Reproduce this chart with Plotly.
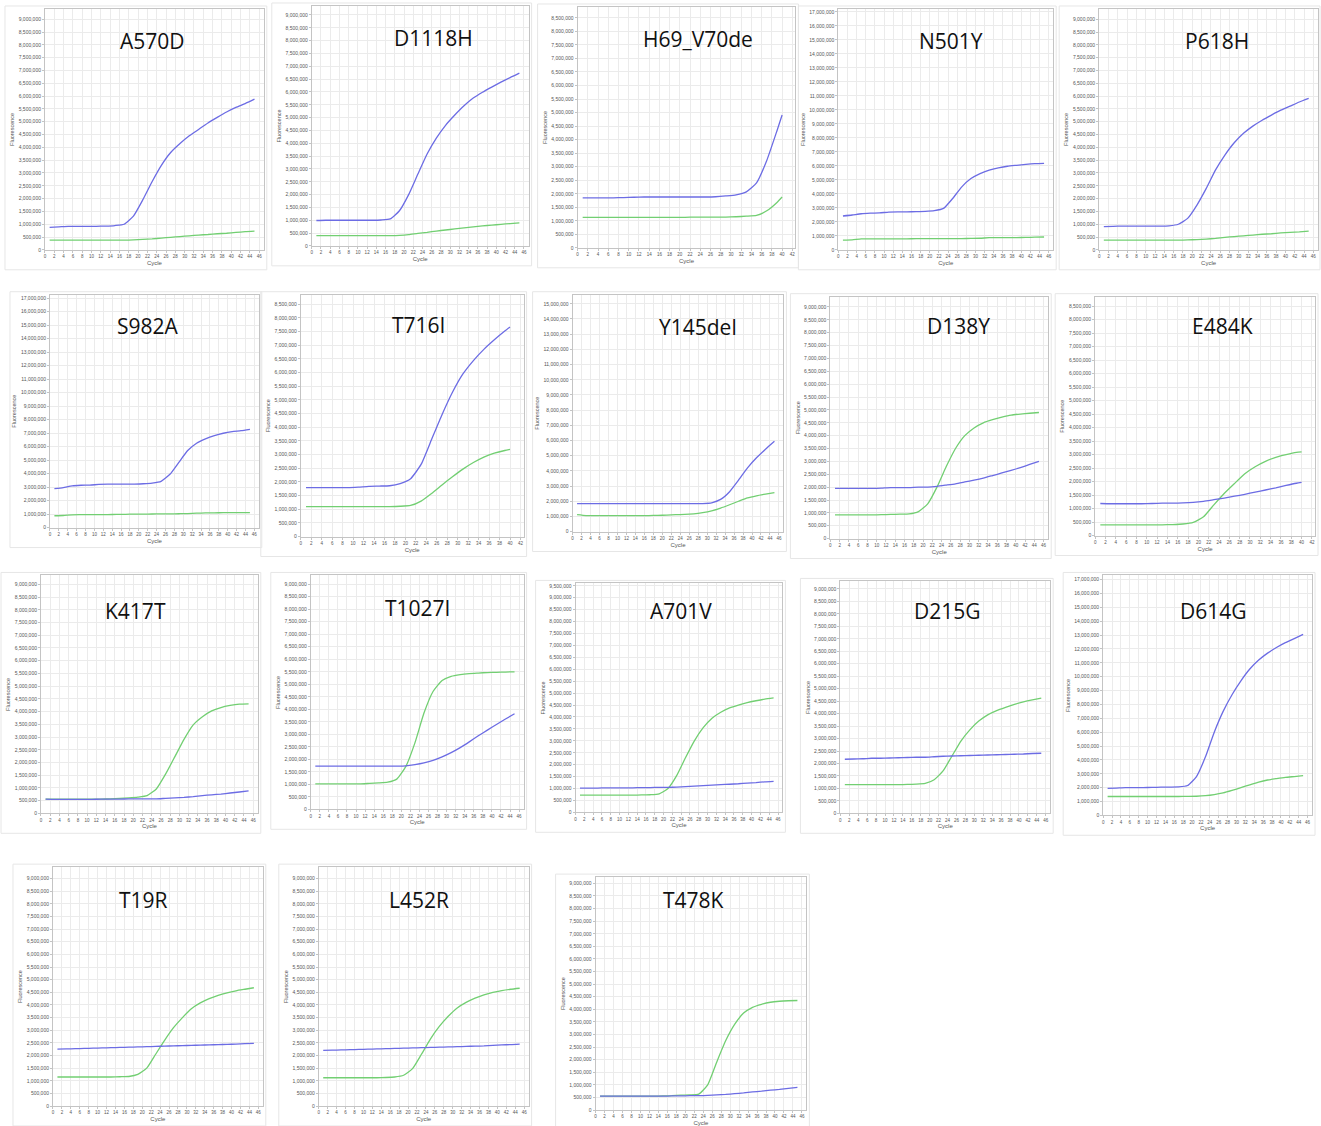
import plotly.graph_objects as go

W, H = 1321, 1126

# ---------------- data (fluorescence in millions) ----------------
CYC45 = [1, 3, 5, 7, 9, 11, 13, 15, 17, 19, 21, 23, 25, 27, 29, 31, 33, 35, 37, 39, 41, 43, 45]
CYC40 = [1, 3, 5, 7, 9, 11, 13, 15, 17, 19, 21, 23, 25, 27, 29, 31, 33, 35, 37, 39, 40]

A570D_BLUE = [0.88, 0.90, 0.92, 0.92, 0.92, 0.92, 0.93, 0.95, 1.00, 1.32, 1.95, 2.66, 3.30, 3.80, 4.15, 4.45, 4.70, 4.95, 5.17, 5.38, 5.56, 5.71, 5.88]
A570D_GREEN = [0.38, 0.38, 0.38, 0.38, 0.38, 0.38, 0.38, 0.38, 0.38, 0.39, 0.41, 0.43, 0.46, 0.49, 0.52, 0.55, 0.58, 0.60, 0.63, 0.65, 0.68, 0.71, 0.73]

D1118H_BLUE = [0.99, 1.00, 1.00, 1.00, 1.00, 1.00, 1.00, 1.01, 1.05, 1.37, 2.00, 2.80, 3.58, 4.20, 4.70, 5.10, 5.46, 5.76, 5.99, 6.19, 6.38, 6.56, 6.73]
D1118H_GREEN = [0.40, 0.40, 0.40, 0.40, 0.40, 0.40, 0.40, 0.40, 0.40, 0.41, 0.44, 0.49, 0.53, 0.58, 0.62, 0.66, 0.70, 0.74, 0.78, 0.81, 0.84, 0.87, 0.90]

H69_BLUE = [1.85, 1.85, 1.85, 1.85, 1.86, 1.87, 1.88, 1.88, 1.88, 1.88, 1.88, 1.88, 1.88, 1.89, 1.92, 1.96, 2.07, 2.40, 3.23, 4.33, 4.91]
H69_GREEN = [1.13, 1.13, 1.13, 1.13, 1.13, 1.13, 1.13, 1.13, 1.13, 1.13, 1.13, 1.14, 1.14, 1.14, 1.14, 1.15, 1.17, 1.20, 1.37, 1.68, 1.88]

N501Y_BLUE = [2.42, 2.49, 2.58, 2.62, 2.64, 2.70, 2.72, 2.72, 2.73, 2.75, 2.80, 2.96, 3.67, 4.50, 5.09, 5.45, 5.69, 5.85, 5.97, 6.04, 6.11, 6.16, 6.18]
N501Y_GREEN = [0.70, 0.72, 0.78, 0.78, 0.78, 0.78, 0.78, 0.79, 0.80, 0.80, 0.80, 0.81, 0.81, 0.81, 0.82, 0.83, 0.87, 0.87, 0.88, 0.88, 0.89, 0.91, 0.92]

P618H_BLUE = [0.91, 0.92, 0.93, 0.93, 0.93, 0.93, 0.93, 0.94, 1.00, 1.23, 1.75, 2.40, 3.12, 3.70, 4.18, 4.55, 4.83, 5.06, 5.26, 5.45, 5.61, 5.77, 5.91]
P618H_GREEN = [0.38, 0.38, 0.38, 0.38, 0.38, 0.38, 0.38, 0.38, 0.38, 0.39, 0.40, 0.42, 0.45, 0.49, 0.52, 0.55, 0.58, 0.61, 0.63, 0.66, 0.68, 0.70, 0.73]

S982A_BLUE = [2.89, 2.97, 3.10, 3.14, 3.15, 3.20, 3.22, 3.22, 3.22, 3.23, 3.25, 3.30, 3.43, 3.95, 4.83, 5.71, 6.25, 6.57, 6.81, 6.99, 7.11, 7.18, 7.28]
S982A_GREEN = [0.88, 0.90, 0.95, 0.96, 0.97, 0.97, 0.97, 0.98, 0.99, 1.00, 1.00, 1.01, 1.02, 1.02, 1.03, 1.04, 1.07, 1.09, 1.10, 1.11, 1.12, 1.12, 1.12]

T716I_BLUE = [1.79, 1.79, 1.79, 1.79, 1.79, 1.81, 1.84, 1.85, 1.86, 1.94, 2.12, 2.64, 3.55, 4.46, 5.28, 5.95, 6.44, 6.85, 7.20, 7.52, 7.67]
T716I_GREEN = [1.10, 1.10, 1.10, 1.10, 1.10, 1.10, 1.10, 1.10, 1.10, 1.11, 1.14, 1.30, 1.58, 1.89, 2.19, 2.47, 2.71, 2.91, 3.05, 3.15, 3.19]

Y145DEL_BLUE = [1.84, 1.84, 1.84, 1.84, 1.84, 1.84, 1.84, 1.84, 1.84, 1.84, 1.84, 1.84, 1.84, 1.84, 1.85, 1.90, 2.12, 2.63, 3.39, 4.20, 4.86, 5.43, 5.95]
Y145DEL_GREEN = [1.12, 1.06, 1.06, 1.06, 1.06, 1.06, 1.06, 1.06, 1.06, 1.07, 1.09, 1.12, 1.13, 1.17, 1.25, 1.37, 1.55, 1.77, 2.00, 2.22, 2.36, 2.47, 2.57]

D138Y_BLUE = [1.95, 1.95, 1.95, 1.95, 1.95, 1.96, 1.98, 1.98, 1.98, 2.00, 2.00, 2.03, 2.08, 2.13, 2.20, 2.27, 2.35, 2.45, 2.55, 2.65, 2.76, 2.88, 3.00]
D138Y_GREEN = [0.92, 0.92, 0.92, 0.92, 0.92, 0.93, 0.94, 0.95, 0.96, 1.05, 1.35, 2.00, 2.80, 3.50, 4.00, 4.30, 4.50, 4.62, 4.72, 4.80, 4.84, 4.87, 4.90]

E484K_BLUE = [1.19, 1.18, 1.18, 1.18, 1.18, 1.19, 1.20, 1.20, 1.21, 1.23, 1.27, 1.33, 1.39, 1.46, 1.53, 1.61, 1.69, 1.77, 1.86, 1.94, 1.97]
E484K_GREEN = [0.40, 0.40, 0.40, 0.40, 0.40, 0.40, 0.40, 0.41, 0.43, 0.49, 0.70, 1.14, 1.56, 1.93, 2.29, 2.55, 2.75, 2.90, 3.00, 3.08, 3.10]

K417T_BLUE = [0.56, 0.55, 0.55, 0.55, 0.55, 0.55, 0.56, 0.56, 0.56, 0.57, 0.57, 0.57, 0.57, 0.59, 0.61, 0.63, 0.66, 0.70, 0.73, 0.76, 0.80, 0.84, 0.88]
K417T_GREEN = [0.56, 0.56, 0.56, 0.56, 0.56, 0.56, 0.56, 0.57, 0.59, 0.61, 0.64, 0.70, 0.96, 1.54, 2.22, 2.91, 3.48, 3.80, 4.03, 4.16, 4.24, 4.29, 4.30]

T1027I_BLUE = [1.73, 1.73, 1.73, 1.73, 1.73, 1.73, 1.73, 1.73, 1.73, 1.73, 1.74, 1.79, 1.86, 1.96, 2.10, 2.27, 2.47, 2.70, 2.94, 3.17, 3.39, 3.61, 3.82]
T1027I_GREEN = [1.02, 1.02, 1.02, 1.02, 1.02, 1.02, 1.04, 1.06, 1.09, 1.21, 1.72, 2.66, 3.85, 4.71, 5.15, 5.32, 5.39, 5.43, 5.45, 5.47, 5.48, 5.49, 5.50]

A701V_BLUE = [1.02, 1.02, 1.02, 1.03, 1.03, 1.03, 1.03, 1.04, 1.04, 1.05, 1.05, 1.06, 1.08, 1.10, 1.12, 1.14, 1.16, 1.18, 1.20, 1.23, 1.25, 1.28, 1.30]
A701V_GREEN = [0.72, 0.72, 0.72, 0.72, 0.72, 0.72, 0.72, 0.73, 0.74, 0.78, 1.00, 1.55, 2.30, 3.00, 3.55, 3.95, 4.20, 4.38, 4.50, 4.60, 4.68, 4.75, 4.80]

D215G_BLUE = [2.17, 2.18, 2.19, 2.21, 2.21, 2.22, 2.23, 2.24, 2.25, 2.25, 2.27, 2.29, 2.30, 2.31, 2.32, 2.33, 2.34, 2.35, 2.36, 2.37, 2.38, 2.40, 2.41]
D215G_GREEN = [1.15, 1.15, 1.15, 1.15, 1.15, 1.15, 1.15, 1.16, 1.17, 1.20, 1.35, 1.70, 2.30, 2.90, 3.35, 3.70, 3.95, 4.12, 4.25, 4.37, 4.47, 4.55, 4.62]

D614G_BLUE = [1.95, 1.97, 2.00, 2.00, 2.00, 2.02, 2.03, 2.04, 2.05, 2.15, 2.80, 4.20, 6.00, 7.50, 8.70, 9.70, 10.55, 11.20, 11.70, 12.10, 12.45, 12.75, 13.05]
D614G_GREEN = [1.36, 1.36, 1.36, 1.36, 1.36, 1.36, 1.36, 1.36, 1.36, 1.37, 1.38, 1.42, 1.50, 1.62, 1.80, 2.00, 2.20, 2.40, 2.55, 2.65, 2.74, 2.80, 2.86]

T19R_BLUE = [2.25, 2.26, 2.27, 2.28, 2.29, 2.30, 2.31, 2.32, 2.33, 2.34, 2.35, 2.36, 2.37, 2.38, 2.39, 2.40, 2.41, 2.42, 2.43, 2.44, 2.45, 2.47, 2.48]
T19R_GREEN = [1.15, 1.15, 1.15, 1.15, 1.15, 1.15, 1.15, 1.16, 1.17, 1.25, 1.50, 2.05, 2.60, 3.10, 3.50, 3.85, 4.08, 4.25, 4.38, 4.48, 4.56, 4.62, 4.68]

L452R_BLUE = [2.20, 2.21, 2.22, 2.23, 2.24, 2.25, 2.26, 2.27, 2.28, 2.29, 2.30, 2.31, 2.32, 2.33, 2.34, 2.35, 2.36, 2.37, 2.38, 2.40, 2.42, 2.43, 2.45]
L452R_GREEN = [1.12, 1.12, 1.12, 1.12, 1.12, 1.12, 1.12, 1.13, 1.15, 1.22, 1.48, 2.05, 2.65, 3.15, 3.55, 3.88, 4.10, 4.27, 4.40, 4.50, 4.57, 4.62, 4.66]

T478K_BLUE = [0.55, 0.55, 0.55, 0.55, 0.55, 0.55, 0.55, 0.55, 0.56, 0.56, 0.57, 0.57, 0.58, 0.60, 0.62, 0.65, 0.68, 0.72, 0.75, 0.79, 0.82, 0.86, 0.90]
T478K_GREEN = [0.55, 0.55, 0.55, 0.55, 0.55, 0.55, 0.55, 0.56, 0.57, 0.59, 0.60, 0.63, 1.00, 1.90, 2.75, 3.40, 3.85, 4.08, 4.20, 4.28, 4.32, 4.34, 4.35]

# ---------------- panels: title, data, geometry (px) ----------------
# (title, cycles, blue, green, (x0, x1, y0, y1), ymax, ydtick, xmax, title_center)
PANELS = [
    ("A570D", CYC45, A570D_BLUE, A570D_GREEN, (44, 263, 8, 250), 9.4e6, 5e5, 47, (152, 40)),
    ("D1118H", CYC45, D1118H_BLUE, D1118H_GREEN, (311, 528, 5, 246), 9.35e6, 5e5, 47, (433, 37)),
    ("H69_V70de", CYC40, H69_BLUE, H69_GREEN, (577, 795, 6, 248), 8.9e6, 5e5, 42.6, (698, 38)),
    ("N501Y", CYC45, N501Y_BLUE, N501Y_GREEN, (838, 1053, 8, 250), 17.2e6, 1e6, 47, (951, 40)),
    ("P618H", CYC45, P618H_BLUE, P618H_GREEN, (1099, 1318, 8, 250), 9.4e6, 5e5, 47, (1217, 40)),
    ("S982A", CYC45, S982A_BLUE, S982A_GREEN, (49, 258, 295, 529), 17.25e6, 1e6, 47, (147, 326)),
    ("T716I", CYC40, T716I_BLUE, T716I_GREEN, (300, 523, 295, 538), 8.85e6, 5e5, 42.6, (418, 325)),
    ("Y145del", CYC45, Y145DEL_BLUE, Y145DEL_GREEN, (572, 783, 295, 533), 15.6e6, 1e6, 47, (698, 327)),
    ("D138Y", CYC45, D138Y_BLUE, D138Y_GREEN, (830, 1048, 297, 540), 9.4e6, 5e5, 47, (958, 326)),
    ("E484K", CYC40, E484K_BLUE, E484K_GREEN, (1095, 1315, 297, 537), 8.85e6, 5e5, 42.6, (1222, 326)),
    ("K417T", CYC45, K417T_BLUE, K417T_GREEN, (40, 257, 577, 816), 9.35e6, 5e5, 47, (135, 613)),
    ("T1027I", CYC45, T1027I_BLUE, T1027I_GREEN, (310, 523, 577, 812), 9.35e6, 5e5, 47, (417, 610)),
    ("A701V", CYC45, A701V_BLUE, A701V_GREEN, (575, 782, 585, 815), 9.6e6, 5e5, 47, (681, 613)),
    ("D215G", CYC45, D215G_BLUE, D215G_GREEN, (840, 1050, 583, 816), 9.3e6, 5e5, 47, (947, 613)),
    ("D614G", CYC45, D614G_BLUE, D614G_GREEN, (1103, 1312, 577, 818), 17.3e6, 1e6, 47, (1213, 613)),
    ("T19R", CYC45, T19R_BLUE, T19R_GREEN, (52, 262, 870, 1110), 9.45e6, 5e5, 47, (143, 903)),
    ("L452R", CYC45, L452R_BLUE, L452R_GREEN, (318, 528, 870, 1110), 9.45e6, 5e5, 47, (418, 903)),
    ("T478K", CYC45, T478K_BLUE, T478K_GREEN, (595, 806, 880, 1114), 9.25e6, 5e5, 47, (693, 903)),
]

BLUE = "#6c6ce4"
GREEN = "#72cf72"
GRID = "#ebebeb"
AXIS = "#c4c4c4"
TXT = "#555555"

fig = go.Figure()
layout = dict(
    width=W, height=H, autosize=False,
    margin=dict(l=0, r=0, t=0, b=0),
    paper_bgcolor="white", plot_bgcolor="white",
    showlegend=False,
    font=dict(family="Liberation Sans, Arial, sans-serif", color=TXT),
)
annotations = []
shapes = []

for i, (title, cyc, blue, green, (x0, x1, y0, y1), ymax, ydt, xmax, (tx, ty)) in enumerate(PANELS, start=1):
    xa = "x" if i == 1 else f"x{i}"
    ya = "y" if i == 1 else f"y{i}"
    fig.add_trace(go.Scatter(x=cyc, y=[v * 1e6 for v in green], mode="lines",
                             line=dict(color=GREEN, width=1.3, shape="spline", smoothing=0.5),
                             xaxis=xa, yaxis=ya, hoverinfo="skip"))
    fig.add_trace(go.Scatter(x=cyc, y=[v * 1e6 for v in blue], mode="lines",
                             line=dict(color=BLUE, width=1.3, shape="spline", smoothing=0.5),
                             xaxis=xa, yaxis=ya, hoverinfo="skip"))
    layout["xaxis" if i == 1 else f"xaxis{i}"] = dict(
        domain=[x0 / W, x1 / W], anchor=ya, range=[0, xmax],
        tick0=0, dtick=2, showgrid=True, gridcolor=GRID, gridwidth=1,
        showline=True, linecolor=AXIS, linewidth=1, mirror=True,
        ticks="outside", ticklen=2, tickcolor=AXIS,
        tickfont=dict(size=4.5, color=TXT), zeroline=False,
        title=dict(text="Cycle", font=dict(size=6, color=TXT), standoff=2),
    )
    layout["yaxis" if i == 1 else f"yaxis{i}"] = dict(
        domain=[1 - y1 / H, 1 - y0 / H], anchor=xa, range=[0, ymax],
        tick0=0, dtick=ydt, tickformat=",d", showgrid=True, gridcolor=GRID, gridwidth=1,
        showline=True, linecolor=AXIS, linewidth=1, mirror=True,
        ticks="outside", ticklen=2, tickcolor=AXIS,
        tickfont=dict(size=5, color=TXT), zeroline=False,
        title=dict(text="Fluorescence", font=dict(size=5.5, color=TXT), standoff=3),
    )
    annotations.append(dict(text=title, x=tx / W, y=1 - ty / H, xref="paper", yref="paper",
                            xanchor="center", yanchor="middle", showarrow=False,
                            font=dict(family="Open Sans, Noto Sans, sans-serif", size=21, color="#111111")))
    # faint outer frame of each screenshot panel
    shapes.append(dict(type="rect", xref="paper", yref="paper",
                       x0=(x0 - 40) / W, x1=min(x1 + 3, W - 1) / W,
                       y0=1 - (y1 + 20) / H, y1=1 - max(y0 - 3, 1) / H,
                       line=dict(color="#e6e6e6", width=1), layer="below"))

layout["annotations"] = annotations
layout["shapes"] = shapes
fig.update_layout(**layout)

fig.write_html("out.html", config={"displayModeBar": False},
               post_script="document.body.style.margin='0';document.body.style.overflow='hidden';")
